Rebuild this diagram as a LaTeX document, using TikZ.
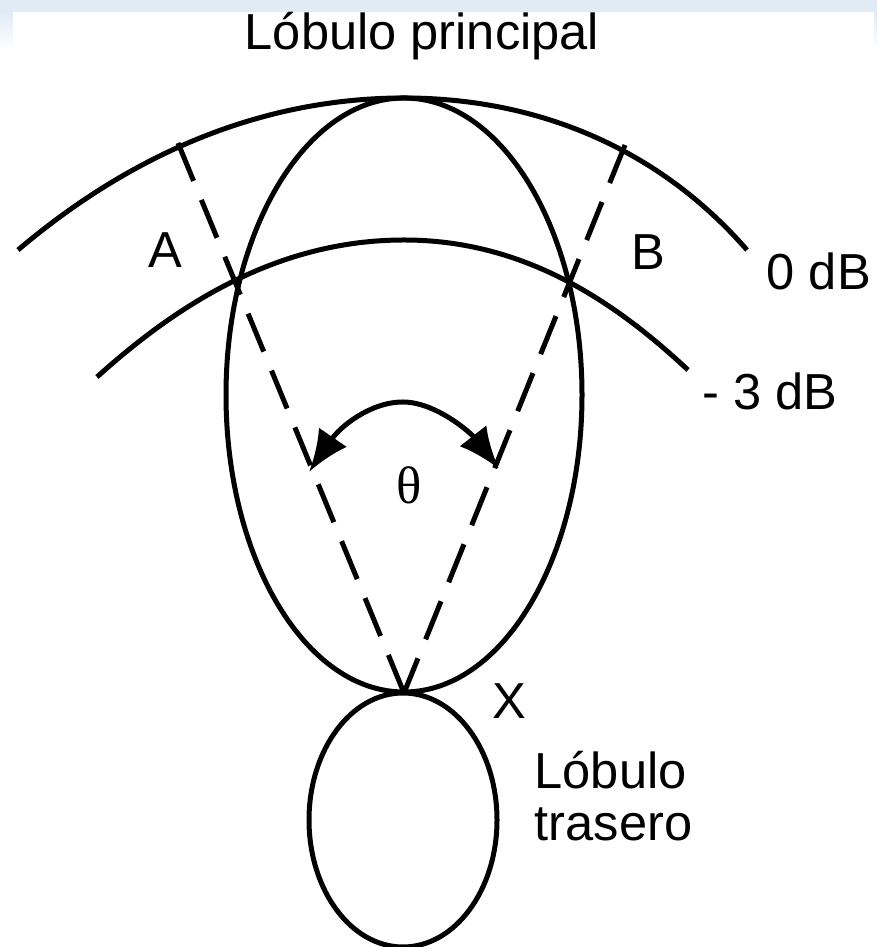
\documentclass[tikz,border=0pt]{standalone}
\usepackage{fontspec}
\setmainfont{Liberation Sans}
\newfontfamily\thetafont{Liberation Serif}
\usetikzlibrary{arrows.meta}
\definecolor{bandblue}{RGB}{225,235,246}
\tikzset{trace/.style={line width=0.05cm}}
\tikzset{dashtrace/.style={line width=0.05cm,dash pattern=on 0.41cm off 0.205cm}}
\tikzset{lbl/.style={inner sep=0pt,font=\fontsize{14.4}{17}\selectfont}}
\tikzset{>={Latex[length=0.42cm,width=0.34cm]}}
\begin{document}
\begin{tikzpicture}
	\useasboundingbox (0,0) rectangle (8.77,9.47);
	\fill[bandblue] (0,9.35) rectangle (8.77,9.47);
	\shade[top color=bandblue,bottom color=white] (0,8.97) rectangle (0.13,9.35);
	\shade[top color=bandblue,bottom color=white] (8.74,8.97) rectangle (8.77,9.35);

	\coordinate (x) at (4.04,2.54);
	\coordinate (a) at (1.78,8.04);
	\coordinate (b) at (6.25,8.02);

	\draw[trace] (4.04,5.52) ellipse (1.78 and 2.97);
	\draw[trace] (4.03,1.27) ellipse (0.94 and 1.27);

	\draw[trace] (0.18,6.97) .. controls (1.3,7.92) and (2.6,8.49) .. (4.04,8.49)
		.. controls (5.4,8.49) and (6.6,7.97) .. (7.47,6.97);
	\draw[trace] (0.97,5.70) .. controls (1.8,6.45) and (2.8,7.07) .. (4.04,7.07)
		.. controls (5.2,7.07) and (6.1,6.5) .. (6.88,5.77);

	\draw[dashtrace] (a) -- (x);
	\draw[dashtrace] (b) -- (x);
	\draw[trace,<->] (3.09,4.75) .. controls (3.4,5.2) and (3.7,5.45) .. (4.03,5.45)
		.. controls (4.35,5.45) and (4.7,5.15) .. (4.99,4.78);

	\node[lbl] (top) at (4.22,9.11) {Lóbulo principal};
	\node[lbl] (la) at (1.65,6.97) {A};
	\node[lbl] (lb) at (6.48,6.95) {B};
	\node[lbl,anchor=west] (zero) at (7.66,6.76) {0 dB};
	\node[lbl,anchor=west] (three) at (7.02,5.56) {- 3 dB};
	\node[lbl,font=\fontsize{15}{18}\thetafont] (th) at (4.09,4.62) {θ};
	\node[lbl] (lx) at (5.09,2.46) {X};
	\node[lbl,anchor=west] (back1) at (5.34,1.77) {Lóbulo};
	\node[lbl,anchor=west] (back2) at (5.34,1.23) {trasero};
\end{tikzpicture}
\end{document}
